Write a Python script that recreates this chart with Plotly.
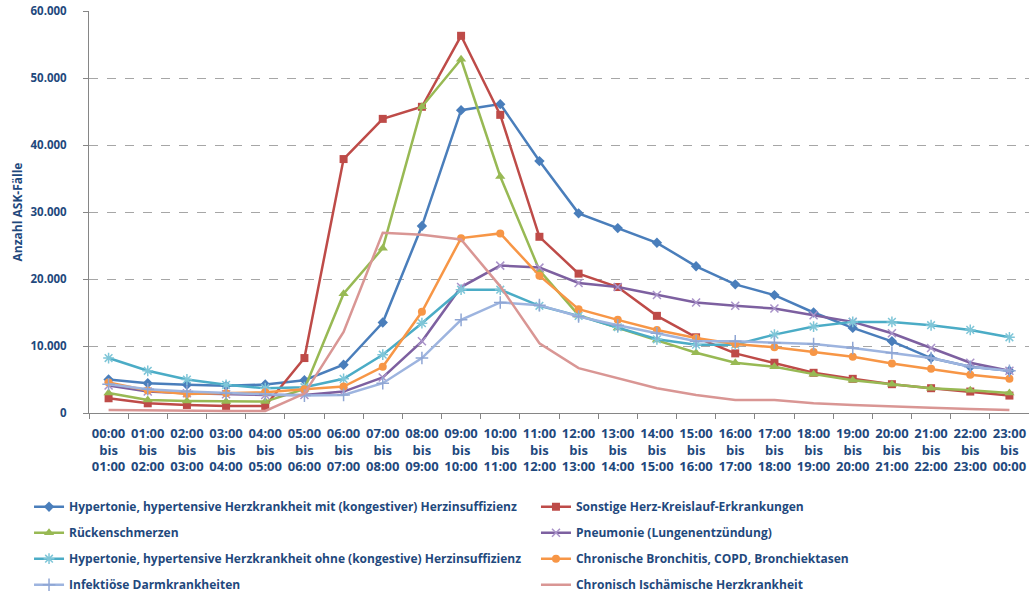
import plotly.graph_objects as go

hours = [f"{h:02d}:00" for h in range(24)]
categories = [f"{hours[i]}<br>bis<br>{hours[(i + 1) % 24]}" for i in range(24)]

hyp_mit = [5000, 4450, 4200, 4050, 4250, 4900, 7200, 13500, 27900, 45200, 46100, 37600,
           29800, 27600, 25400, 21900, 19200, 17600, 15000, 12700, 10700, 8200, 6900, 6300]
sonstige = [2200, 1450, 1200, 1050, 1050, 8200, 37900, 43900, 45700, 56300, 44500, 26300,
            20800, 18800, 14500, 11300, 8900, 7500, 6000, 5100, 4300, 3700, 3200, 2600]
ruecken = [3000, 1950, 1800, 1700, 1700, 3600, 17800, 24600, 45700, 52800, 35300, 21300,
           14600, 12700, 10900, 9000, 7500, 6900, 5800, 4900, 4300, 3700, 3400, 3000]
pneumonie = [4100, 3200, 2950, 2800, 2700, 2700, 3200, 5300, 10700, 18800, 22000, 21700,
             19400, 18800, 17600, 16500, 16000, 15600, 14600, 13600, 11900, 9700, 7500, 6300]
hyp_ohne = [8200, 6300, 5000, 4200, 3700, 3850, 5100, 8700, 13400, 18400, 18400, 16000,
            14500, 12800, 11000, 10200, 10200, 11700, 12900, 13600, 13600, 13100, 12400, 11300]
copd = [4550, 3350, 2850, 2950, 3100, 3550, 3950, 6900, 15100, 26100, 26800, 20500,
        15500, 13900, 12400, 11200, 10300, 9800, 9100, 8400, 7400, 6600, 5700, 5100]
darm = [4300, 3550, 3200, 2950, 2800, 2600, 2700, 4450, 8200, 13900, 16500, 16100,
        14400, 13100, 11900, 10700, 10700, 10500, 10300, 9700, 9000, 8200, 6900, 6300]
ischaem = [450, 380, 300, 300, 300, 2900, 12100, 26900, 26600, 25900, 18900, 10400,
           6700, 5200, 3700, 2700, 1950, 1950, 1450, 1200, 950, 800, 600, 450]

series = [
    ("Hypertonie, hypertensive Herzkrankheit mit (kongestiver) Herzinsuffizienz", hyp_mit,
     "#4A7EBB", "#4A7EBB", "diamond", 8, "legend"),
    ("Sonstige Herz-Kreislauf-Erkrankungen", sonstige, "#BE4B48", "#BE4B48", "square", 8, "legend2"),
    ("Rückenschmerzen", ruecken, "#98B954", "#98B954", "triangle-up", 9, "legend"),
    ("Pneumonie (Lungenentzündung)", pneumonie, "#7D60A0", "#A993C9", "x-thin-open", 8, "legend2"),
    ("Hypertonie, hypertensive Herzkrankheit ohne (kongestive) Herzinsuffizienz", hyp_ohne,
     "#4BACC6", "#7FC6D8", "asterisk-open", 9, "legend"),
    ("Chronische Bronchitis, COPD, Bronchiektasen", copd, "#F79646", "#F79646", "circle", 8, "legend2"),
    ("Infektiöse Darmkrankheiten", darm, "#9DB4DF", "#8FA6D4", "cross-thin-open", 9, "legend"),
    ("Chronisch Ischämische Herzkrankheit", ischaem, "#D99694", "#D99694", None, 0, "legend2"),
]

fig = go.Figure()
for idx, (name, vals, lc, mc, sym, size, leg) in enumerate(series):
    if sym is None:
        mode = "lines"
        marker = None
    else:
        mode = "lines+markers"
        if sym.endswith("open"):
            marker = dict(symbol=sym, size=size, color=mc, line=dict(color=mc, width=1.5))
        else:
            marker = dict(symbol=sym, size=size, color=mc, line=dict(width=0))
    fig.add_trace(go.Scatter(
        x=categories, y=vals, name=name, mode=mode,
        line=dict(color=lc, width=2.5), marker=marker,
        legend=leg, legendgroup=name, legendrank=idx,
    ))

navy = "#1F497D"
font_family = "Open Sans, Lato, sans-serif"
fw = 700

leg_font = dict(size=12, color=navy, family=font_family, weight=fw)

fig.update_layout(
    width=1029, height=593,
    margin=dict(l=89, r=0, t=11, b=180, autoexpand=False),
    paper_bgcolor="white", plot_bgcolor="white",
    separators=",.",
    hovermode=False,
    font=dict(family=font_family, color=navy, size=12, weight=fw),
    showlegend=True,
    legend=dict(x=-0.0638, y=-0.197, xanchor="left", yanchor="top", orientation="v",
                tracegroupgap=7, font=leg_font, bgcolor="rgba(0,0,0,0)", itemwidth=30),
    legend2=dict(x=0.4755, y=-0.197, xanchor="left", yanchor="top", orientation="v",
                 tracegroupgap=7, font=leg_font, bgcolor="rgba(0,0,0,0)", itemwidth=30),
    xaxis=dict(
        type="category", categoryorder="array", categoryarray=categories,
        range=[-0.5, 23.5], tickangle=0, automargin=False,
        showline=True, linecolor="#868686", linewidth=1,
        ticks="outside", tickson="boundaries", ticklen=5, tickcolor="#868686",
        showgrid=False, ticklabelstandoff=8,
        tickfont=dict(size=13, color=navy, family=font_family, weight=fw),
    ),
    yaxis=dict(
        range=[0, 60000], dtick=10000, tickformat=",d", automargin=False,
        showline=True, linecolor="#868686", linewidth=1,
        ticks="outside", ticklen=5, tickcolor="#868686",
        showgrid=True, gridcolor="#A6A6A6", griddash="dash", gridwidth=1,
        zeroline=False,
        tickfont=dict(size=11.5, color=navy, family=font_family, weight=fw),
        ticklabelstandoff=14,
        title=dict(text="Anzahl ASK-Fälle", standoff=5,
                   font=dict(size=12, color=navy, family=font_family, weight=fw)),
    ),
)

fig.write_html(
    "out.html",
    config={"displayModeBar": False, "staticPlot": True},
    post_script="document.body.style.margin='0px';document.body.style.overflow='hidden';",
)
